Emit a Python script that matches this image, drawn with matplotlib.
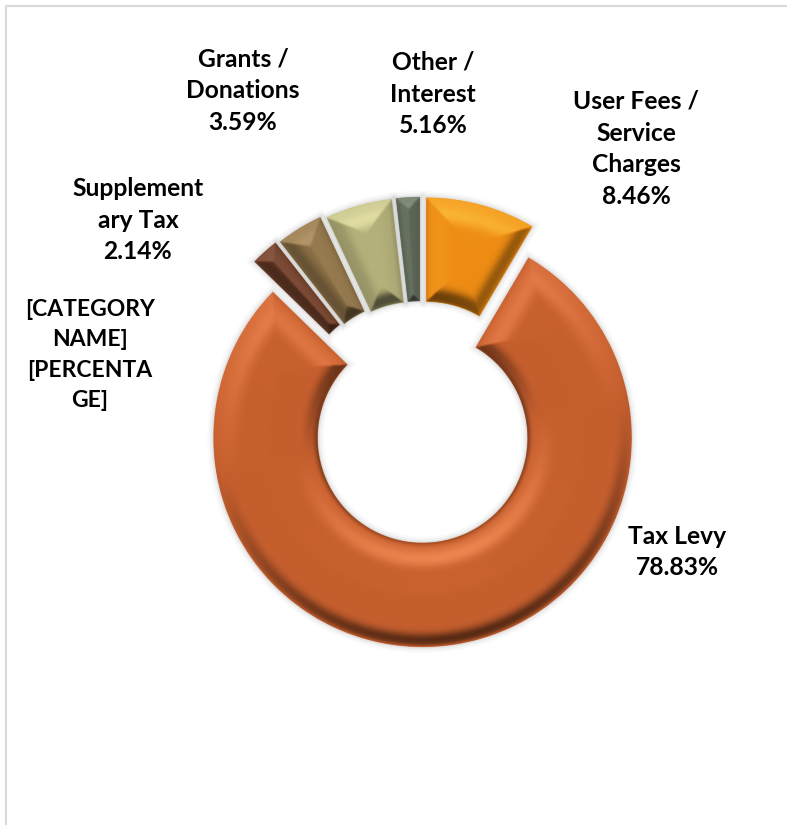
import numpy as np
import matplotlib
matplotlib.use('Agg')
import matplotlib.pyplot as plt
from matplotlib.patches import Wedge

plt.rcParams['font.family'] = ['Lato', 'DejaVu Sans']

# Shares, clockwise from twelve o'clock
shares = [8.46, 78.83, 2.14, 3.59, 5.16, 1.82]
slice_colors = ['#EE8C14', '#C65F2E', '#6E3F2A', '#8C7147', '#B4B17B', '#66705F']
label_texts = ['User Fees /\nService\nCharges\n8.46%',
               'Tax Levy\n78.83%',
               'Supplement\nary Tax\n2.14%',
               'Grants /\nDonations\n3.59%',
               'Other /\nInterest\n5.16%',
               '[CATEGORY\nNAME]\n[PERCENTA\nGE]']
label_x = [636, 677, 138, 243, 433, 90]
label_y = [149, 552, 220, 91, 94, 355]
label_size = [17.7, 17.7, 17.7, 17.7, 17.7, 16.5]

W, H = 787, 825
BEVEL = 31.0
light = np.array([-0.18, 0.98])


def box_blur(a, n):
    kernel = np.ones(n) / n
    a = np.apply_along_axis(lambda m: np.convolve(m, kernel, mode='same'), 0, a)
    return np.apply_along_axis(lambda m: np.convolve(m, kernel, mode='same'), 1, a)


def edge_shade(d, nx, ny, edge_dark):
    # rounded bevel: bright ridge on lit edges, dark band on the far ones
    t = np.clip(d / BEVEL, 0, 1)
    u = nx * light[0] + ny * light[1]
    lit = np.clip(u, 0, 1) * np.exp(-((t - 0.52) / 0.28) ** 2) * 0.7
    lit = lit + np.clip(u, 0, 1) * np.clip(1 - t / 0.5, 0, 1) * (1 - edge_dark) * 0.6
    dark = np.clip(-u, 0, 1) * np.exp(-((t - 0.22) / 0.22) ** 2) * 0.78
    rim = np.clip(1 - d / 3.0, 0, 1) * np.clip(-u, 0, 1) * 0.35
    low = np.clip(1 - t / 0.2, 0, 1) ** 1.5 * edge_dark
    return lit - dark + rim - low


def bevel_image(w, color):
    # shaded RGBA raster for one ring segment, mitred where edges meet
    cx, cy = w.center
    r1, r0 = w.r, w.r - w.width
    span = w.theta2 - w.theta1
    mid = (w.theta1 + w.theta2) / 2
    x0, x1 = int(cx - r1 - 3), int(cx + r1 + 3)
    y0, y1 = int(cy - r1 - 3), int(cy + r1 + 3)
    xs = np.arange(x0, x1, 0.5) + 0.25
    ys = np.arange(y0, y1, 0.5) + 0.25
    X, Y = np.meshgrid(xs, ys)
    dx, dy = X - cx, Y - cy
    r = np.hypot(dx, dy)
    ang = np.degrees(np.arctan2(dy, dx))
    a = (ang - mid + 180) % 360 - 180

    d_out = r1 - r
    d_in = r - r0
    d_1 = r * np.sin(np.radians(np.clip(span / 2 + a, -90, 90)))
    d_2 = r * np.sin(np.radians(np.clip(span / 2 - a, -90, 90)))

    rx, ry = dx / np.maximum(r, 1e-6), dy / np.maximum(r, 1e-6)
    t1, t2 = np.radians(w.theta1), np.radians(w.theta2)
    shades = [edge_shade(d_out, rx, ry, 0.08),
              edge_shade(d_in, -rx, -ry, 0.6),
              edge_shade(d_1, np.sin(t1), -np.cos(t1), 0.25),
              edge_shade(d_2, -np.sin(t2), np.cos(t2), 0.25)]
    dists = np.stack([d_out, d_in, d_1, d_2])
    nearest = np.argmin(dists, axis=0)
    shade = np.choose(nearest, shades)
    shade = box_blur(shade, 5)

    base = np.array(matplotlib.colors.to_rgb(color))
    tint = np.minimum(base * 1.1 + 0.17, 1.0)
    shadow = base * 0.28
    s = np.clip(shade, -1, 1)[..., None]
    rgb = np.where(s >= 0, base + (tint - base) * s, base + (base - shadow) * s)
    alpha = np.clip(dists.min(axis=0) * 1.0 + 0.5, 0, 1)[..., None]
    return np.dstack([rgb, alpha]), (x0, x1, y0, y1)


fig = plt.figure(figsize=(W / 100, H / 100), dpi=100)
ax = fig.add_axes([0, 0, 1, 1])

wedges, _ = ax.pie(shares, colors=slice_colors, startangle=90, counterclock=False,
                   explode=[20, 12, 25, 23, 20, 20], center=(421, H - 426), radius=209,
                   wedgeprops=dict(width=104, linewidth=0))

# Soft drop shadow under each segment, then the bevel on top
for w, c in zip(wedges, slice_colors):
    w.set_zorder(2)
    for lw, al in [(9, 0.02), (6, 0.03), (3, 0.05)]:
        ax.add_patch(Wedge(w.center, w.r, w.theta1, w.theta2, width=w.width,
                           facecolor='none', edgecolor='black', linewidth=lw,
                           alpha=al, zorder=1))
    img, ext = bevel_image(w, c)
    ax.imshow(img, extent=ext, origin='lower', interpolation='bilinear', zorder=3)

for txt, x, y, size in zip(label_texts, label_x, label_y, label_size):
    ax.text(x, H - y, txt, ha='center', va='center', fontsize=size,
            fontweight='bold', color='black', linespacing=1.46 * 17.7 / size, zorder=5)

# Chart area border runs off the right and bottom of the image
ax.plot([5.5, 5.5, W + 5], [-5, H - 6, H - 6], color='#d9d9d9', linewidth=1.5,
        solid_joinstyle='miter', zorder=0)

ax.set_xlim(0, W)
ax.set_ylim(0, H)
ax.set_aspect('auto')
ax.axis('off')
fig.savefig('out.png', dpi=100, facecolor='white')
